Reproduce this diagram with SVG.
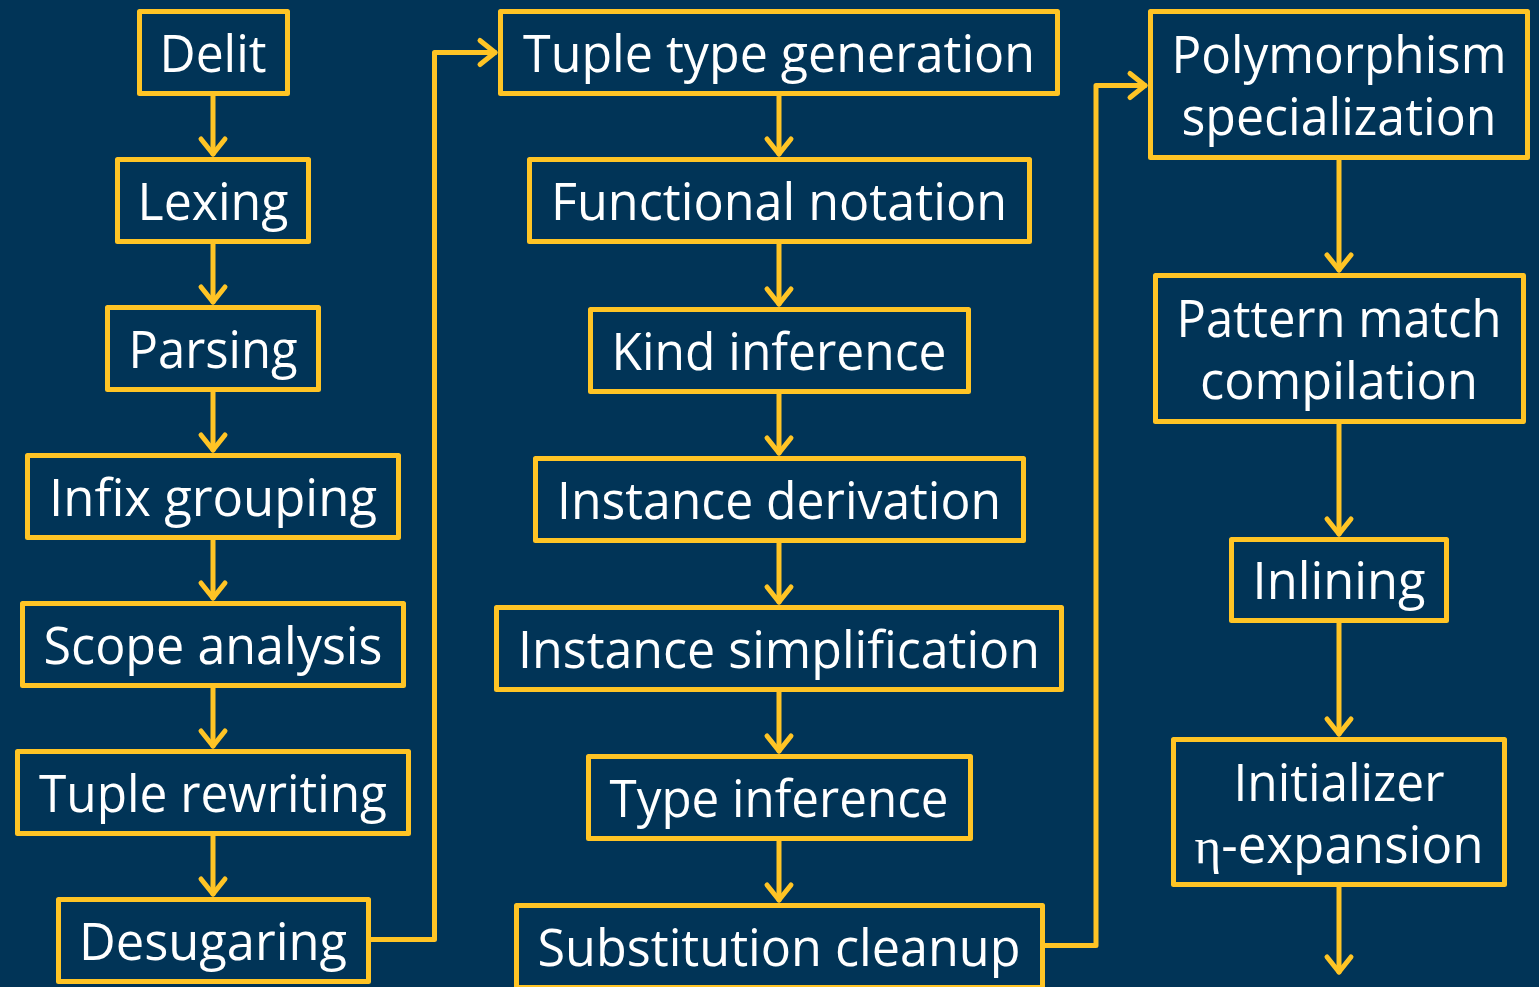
<svg xmlns="http://www.w3.org/2000/svg" width="1539" height="987" viewBox="0 0 1539 987">
<defs>
<style>
.box{fill:none;stroke:#FFC425;stroke-width:5;stroke-linejoin:round}
.lbl{fill:#FFFFFF;font-family:"Open Sans","Noto Sans","DejaVu Sans",sans-serif;font-size:51px;text-anchor:middle}
.eta{font-family:"Liberation Serif","DejaVu Serif",serif}
.con{fill:none;stroke:#FFC425;stroke-width:5;stroke-linejoin:round;stroke-linecap:round}
</style>
<marker id="ah" viewBox="0 0 30 30" refX="26" refY="15" markerWidth="30" markerHeight="30" markerUnits="userSpaceOnUse" orient="auto" overflow="visible">
<path d="M11,3 L26,15 L11,27" fill="none" stroke="#FFC425" stroke-width="5" stroke-linecap="round" stroke-linejoin="round"/>
</marker>
</defs>
<rect width="1539" height="987" fill="#013457"/>
<g id="connectors">
<path class="con" d="M213,93.5 V154" marker-end="url(#ah)"/>
<path class="con" d="M213,241.5 V302" marker-end="url(#ah)"/>
<path class="con" d="M213,389.5 V450" marker-end="url(#ah)"/>
<path class="con" d="M213,537.5 V598" marker-end="url(#ah)"/>
<path class="con" d="M213,685.5 V746" marker-end="url(#ah)"/>
<path class="con" d="M213,833.5 V894" marker-end="url(#ah)"/>
<path class="con" d="M368.5,939.5 H434.5 V52.5 H495" marker-end="url(#ah)"/>
<path class="con" d="M779,93.5 V154" marker-end="url(#ah)"/>
<path class="con" d="M779,241.5 V304" marker-end="url(#ah)"/>
<path class="con" d="M779,391.5 V453" marker-end="url(#ah)"/>
<path class="con" d="M779,540.5 V602" marker-end="url(#ah)"/>
<path class="con" d="M779,689.5 V751" marker-end="url(#ah)"/>
<path class="con" d="M779,838.5 V900" marker-end="url(#ah)"/>
<path class="con" d="M1042.5,945.5 H1096 V85.5 H1145" marker-end="url(#ah)"/>
<path class="con" d="M1339,157.5 V270" marker-end="url(#ah)"/>
<path class="con" d="M1339,421.5 V534" marker-end="url(#ah)"/>
<path class="con" d="M1339,620.5 V734" marker-end="url(#ah)"/>
<path class="con" d="M1339,884.5 V972" marker-end="url(#ah)"/>
</g>
<g id="delit"><rect class="box" x="139.5" y="11.5" width="148" height="82"/><text class="lbl" x="213" y="71.5" textLength="107" lengthAdjust="spacingAndGlyphs">Delit</text></g>
<g id="lexing"><rect class="box" x="117.5" y="159.5" width="191" height="82"/><text class="lbl" x="213" y="219.5" textLength="151" lengthAdjust="spacingAndGlyphs">Lexing</text></g>
<g id="parsing"><rect class="box" x="107.5" y="307.5" width="211" height="82"/><text class="lbl" x="213" y="367.5" textLength="169" lengthAdjust="spacingAndGlyphs">Parsing</text></g>
<g id="infix-grouping"><rect class="box" x="27.5" y="455.5" width="371" height="82"/><text class="lbl" x="213" y="515.5" textLength="328" lengthAdjust="spacingAndGlyphs">Infix grouping</text></g>
<g id="scope-analysis"><rect class="box" x="22.5" y="603.5" width="381" height="82"/><text class="lbl" x="213" y="663.5" textLength="339" lengthAdjust="spacingAndGlyphs">Scope analysis</text></g>
<g id="tuple-rewriting"><rect class="box" x="17.5" y="751.5" width="391" height="82"/><text class="lbl" x="213" y="811.5" textLength="348" lengthAdjust="spacingAndGlyphs">Tuple rewriting</text></g>
<g id="desugaring"><rect class="box" x="58.5" y="899.5" width="310" height="82"/><text class="lbl" x="213" y="959.5" textLength="268" lengthAdjust="spacingAndGlyphs">Desugaring</text></g>
<g id="tuple-type-generation"><rect class="box" x="500.5" y="11.5" width="557" height="82"/><text class="lbl" x="779" y="71.5" textLength="512" lengthAdjust="spacingAndGlyphs">Tuple type generation</text></g>
<g id="functional-notation"><rect class="box" x="529.5" y="159.5" width="500" height="82"/><text class="lbl" x="779" y="219.5" textLength="456" lengthAdjust="spacingAndGlyphs">Functional notation</text></g>
<g id="kind-inference"><rect class="box" x="590.5" y="309.5" width="378" height="82"/><text class="lbl" x="779" y="369.5" textLength="335" lengthAdjust="spacingAndGlyphs">Kind inference</text></g>
<g id="instance-derivation"><rect class="box" x="535.5" y="458.5" width="488" height="82"/><text class="lbl" x="779" y="518.5" textLength="444" lengthAdjust="spacingAndGlyphs">Instance derivation</text></g>
<g id="instance-simplification"><rect class="box" x="496.5" y="607.5" width="565" height="82"/><text class="lbl" x="779" y="667.5" textLength="522" lengthAdjust="spacingAndGlyphs">Instance simplification</text></g>
<g id="type-inference"><rect class="box" x="588.5" y="756.5" width="382" height="82"/><text class="lbl" x="779" y="816.5" textLength="339" lengthAdjust="spacingAndGlyphs">Type inference</text></g>
<g id="substitution-cleanup"><rect class="box" x="516.5" y="905.5" width="526" height="82"/><text class="lbl" x="779" y="965.5" textLength="483" lengthAdjust="spacingAndGlyphs">Substitution cleanup</text></g>
<g id="polymorphism-specialization"><rect class="box" x="1150.5" y="11.5" width="377" height="146"/><text class="lbl" x="1339" y="73" textLength="335" lengthAdjust="spacingAndGlyphs">Polymorphism</text><text class="lbl" x="1339" y="135" textLength="315" lengthAdjust="spacingAndGlyphs">specialization</text></g>
<g id="pattern-match-compilation"><rect class="box" x="1155.5" y="275.5" width="368" height="146"/><text class="lbl" x="1339" y="337" textLength="325" lengthAdjust="spacingAndGlyphs">Pattern match</text><text class="lbl" x="1339" y="399" textLength="278" lengthAdjust="spacingAndGlyphs">compilation</text></g>
<g id="inlining"><rect class="box" x="1231.5" y="539.5" width="215" height="81"/><text class="lbl" x="1339" y="599" textLength="173" lengthAdjust="spacingAndGlyphs">Inlining</text></g>
<g id="initializer-eta-expansion"><rect class="box" x="1173.5" y="739.5" width="331" height="145"/><text class="lbl" x="1339" y="801" textLength="211" lengthAdjust="spacingAndGlyphs">Initializer</text><text class="lbl" x="1339" y="863" textLength="289" lengthAdjust="spacingAndGlyphs"><tspan class="eta">η</tspan>-expansion</text></g>
</svg>
